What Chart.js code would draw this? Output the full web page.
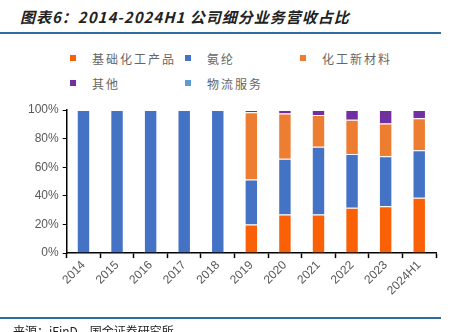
<!DOCTYPE html>
<html>
<head>
<meta charset="utf-8">
<script src="https://cdn.jsdelivr.net/npm/chart.js@4/dist/chart.umd.min.js"></script>
<style>
  body { margin: 0; background: #fff; }
  #wrap { position: relative; width: 455px; height: 332px; overflow: hidden; font-family: "Noto Sans CJK SC", "Noto Sans", sans-serif; }
  #chart { position: absolute; left: 0; top: 0; }
  .title { position: absolute; left: 20px; top: 6px; font-size: 15px; font-weight: bold; font-style: italic; color: #222; letter-spacing: 1px; white-space: nowrap; }
  .rule { position: absolute; left: 0; width: 441px; height: 2px; background: #2e6b9e; }
  .leg { position: absolute; font-size: 12px; color: #666; letter-spacing: 2px; white-space: nowrap; line-height: 14px; }
  .leg i { position: absolute; left: -22px; top: 3px; width: 6px; height: 6px; }
  .src { position: absolute; left: 13px; top: 322px; font-size: 12px; color: #222; white-space: nowrap; }
</style>
</head>
<body>
<div id="wrap">
  <div class="title">图表6：2014-2024H1 公司细分业务营收占比</div>
  <div class="rule" style="top:32px"></div>
  <div id="legend"></div>
  <canvas id="chart" width="455" height="332"></canvas>
  <div class="rule" style="top:317px"></div>
  <div class="src">来源：iFinD，国金证券研究所</div>
</div>
<script>
// 年份
const years = ["2014", "2015", "2016", "2017", "2018", "2019", "2020", "2021", "2022", "2023", "2024H1"];
// 各业务占比 (%)
const basicChem = [0, 0, 0, 0, 0, 20.0, 27.0, 27.0, 31.7, 32.7, 38.7];
const spandex = [100, 100, 100, 100, 100, 31.4, 39.0, 47.4, 37.6, 34.9, 33.1];
const newMaterial = [0, 0, 0, 0, 0, 47.0, 31.5, 22.1, 23.9, 23.0, 22.4];
const others = [0, 0, 0, 0, 0, 1.6, 2.5, 3.5, 6.8, 9.4, 5.8];
const logistics = [0, 0, 0, 0, 0, 0, 0, 0, 0, 0, 0];
const seriesNames = ["基础化工产品", "氨纶", "化工新材料", "其他", "物流服务"];
const yTicks = [0, 20, 40, 60, 80, 100];

const colors = ["#fa6106", "#4472c4", "#ed7d31", "#7030a0", "#5b9bd5"];
const values = [basicChem, spandex, newMaterial, others, logistics];

//legend tự vẽ bằng HTML
const legPos = [[92, 52], [207, 52], [322, 52], [92, 77], [207, 77]];
const legend = document.getElementById('legend');
seriesNames.forEach((name, i) => {
    const d = document.createElement('div');
    d.className = 'leg';
    d.style.left = legPos[i][0] + 'px';
    d.style.top = legPos[i][1] + 'px';
    d.innerHTML = '<i style="background:' + colors[i] + '"></i>' + name;
    legend.appendChild(d);
});

const datasets = seriesNames.map((name, i) => ({
    label: name,
    data: values[i],
    backgroundColor: colors[i],
    borderColor: 'rgba(255,255,255,0.45)',
    borderWidth: 1,
    barPercentage: 0.4,
    categoryPercentage: 1
}));

new Chart(document.getElementById('chart'), {
    type: 'bar',
    data: { labels: years, datasets: datasets },
    options: {
        responsive: false,
        animation: false,
        layout: { padding: { top: 110, left: 24, right: 19, bottom: 34 } },
        plugins: { legend: { display: false }, tooltip: { enabled: false } },
        scales: {
            x: {
                stacked: true,
                grid: { display: true, drawOnChartArea: false, color: '#000', tickLength: 5, tickWidth: 1.5 },
                border: { color: '#000', width: 1.5 },
                ticks: { color: '#595959', font: { size: 12, family: 'Liberation Sans, Arial' }, maxRotation: 45, minRotation: 45, padding: 0 }
            },
            y: {
                stacked: true,
                min: 0, max: 100,
                afterBuildTicks: axis => { axis.ticks = yTicks.map(v => ({ value: v })); },
                grid: { display: true, drawOnChartArea: false, color: '#000', tickLength: 4 },
                border: { color: '#000', width: 1.5 },
                ticks: { color: '#595959', font: { size: 12, family: 'Liberation Sans, Arial' }, padding: 4, callback: v => v + '%' }
            }
        }
    }
});
</script>
</body>
</html>
